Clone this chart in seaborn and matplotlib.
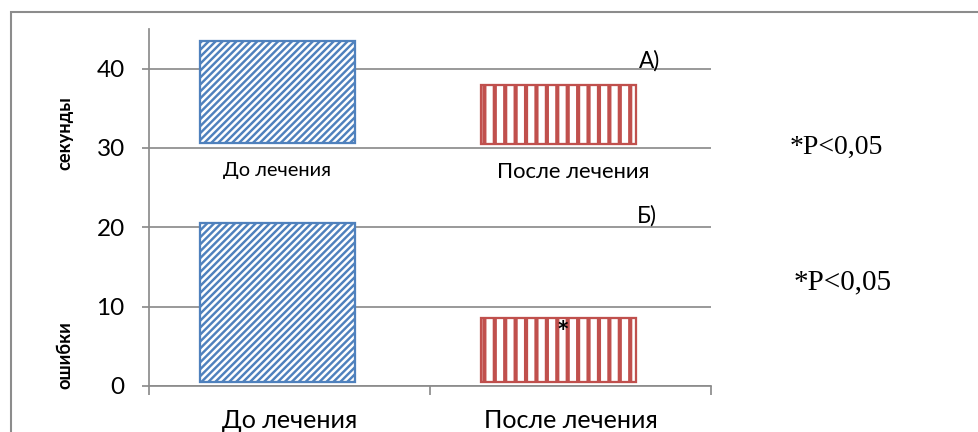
import matplotlib.pyplot as plt
import matplotlib.patches as mpatches
import numpy as np
import seaborn as sns

# values
categories = ["До лечения", "После лечения"]
seconds_low = [30.6, 30.5]
seconds_high = [43.5, 37.9]
errors_low = [0.5, 0.5]
errors_high = [20.6, 8.6]
yticks = [0, 10, 20, 30, 40]

sns.set_theme(style="white")
plt.rcParams['font.family'] = ['Lato', 'DejaVu Sans']
plt.rcParams['text.color'] = 'black'
plt.rcParams['xtick.labelcolor'] = 'black'
plt.rcParams['ytick.labelcolor'] = 'black'

blue = "#4F81BD"
red = "#C0504D"
grey = "#8C8C8C"
hatches = ["//////", "||"]
hatch_lw = [1.4, 2.4]
colors = [blue, red]

fig = plt.figure(figsize=(7.824, 3.456), dpi=125)
ax = fig.add_axes([0.1524, 0.1065, 0.5746, 0.8265])

x = np.arange(len(categories))
shift = -0.043
for i in range(len(categories)):
    with plt.rc_context({'hatch.linewidth': hatch_lw[i]}):
        for low, high in ((seconds_low, seconds_high), (errors_low, errors_high)):
            ax.bar(x[i] + shift, high[i] - low[i], bottom=low[i], width=0.55,
                   facecolor="white", edgecolor=colors[i], hatch=hatches[i],
                   linewidth=1.3, zorder=3)

ax.set_xlim(-0.5, 1.5)
ax.set_ylim(0, 45)
ax.set_yticks(yticks)
ax.set_yticklabels([str(v) for v in yticks], fontsize=14)
ax.set_xticks(x)
ax.set_xticklabels(categories, fontsize=14.5)
ax.tick_params(axis='x', which='major', bottom=True, length=0, pad=13)
ax.set_xticks([-0.5, 0.5, 1.5], minor=True)
ax.tick_params(axis='x', which='minor', bottom=True, direction='out', length=5,
               width=1, color=grey)
ax.tick_params(axis='y', left=True, direction='out', length=4, width=1, color=grey, pad=10)
ax.yaxis.grid(True, color=grey, linewidth=1.0, zorder=0)
ax.set_axisbelow(True)
sns.despine(ax=ax, top=True, right=True)
for s in ("left", "bottom"):
    ax.spines[s].set_color(grey)
    ax.spines[s].set_linewidth(1.0)

# in-plot labels of the upper part
ax.text(x[0] - 0.045, 27.2, categories[0], ha='center', va='center', fontsize=11.5)
ax.text(x[1] + 0.01, 27.0, categories[1], ha='center', va='center', fontsize=12.7)
ax.text(1.28, 41.0, "А)", ha='center', va='center', fontsize=13)
ax.text(1.27, 21.4, "Б)", ha='center', va='center', fontsize=13)
ax.text(x[1] - 0.027, 6.6, "*", ha='center', va='center', fontsize=17,
        fontweight='bold', color='black', zorder=4)

# axis titles
fig.text(65 / 978, 1 - 133 / 432, "секунды", rotation=90, ha='center', va='center',
         fontsize=10.5, fontweight='bold')
fig.text(65 / 978, 1 - 355 / 432, "ошибки", rotation=90, ha='center', va='center',
         fontsize=10.5, fontweight='bold')

# significance notes
fig.text(790 / 978, 1 - 147 / 432, "*P<0,05", ha='left', va='center', fontsize=16,
         family='Liberation Serif')
fig.text(794 / 978, 1 - 282 / 432, "*P<0,05", ha='left', va='center', fontsize=16.8,
         family='Liberation Serif')

# outer frame
fig.patches.append(mpatches.Rectangle((11 / 978, -0.1), 1.2, 1.1 - 12 / 432,
                                      transform=fig.transFigure, fill=False,
                                      edgecolor=grey, linewidth=1.2))

fig.savefig("out.png", dpi=125)
